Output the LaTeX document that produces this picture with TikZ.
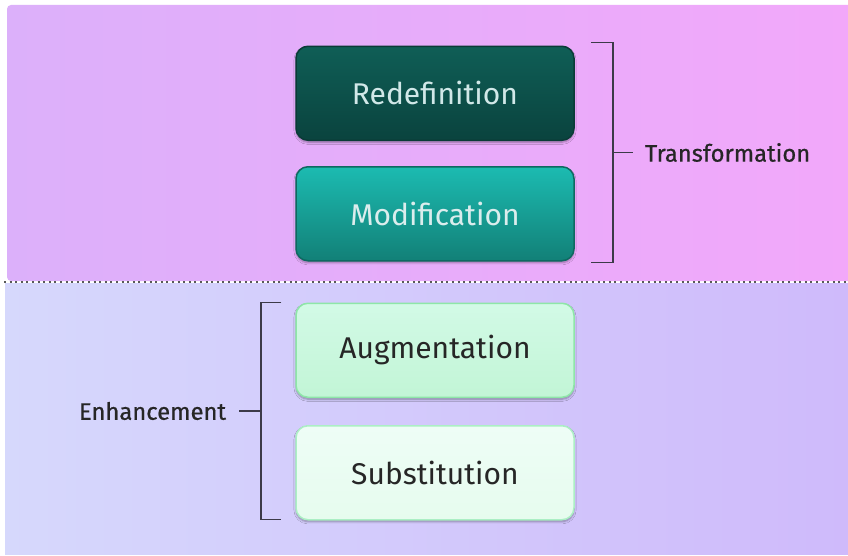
\documentclass[tikz,border=0pt]{standalone}
\usepackage{fontspec}
\setmainfont{Fira Sans}
\newfontfamily\lblfont[FakeBold=0.7]{Fira Sans}
\usetikzlibrary{matrix,positioning,calc,shadows.blur}
\definecolor{topL}{HTML}{DCB0FA}
\definecolor{topR}{HTML}{F2A8FA}
\definecolor{botL}{HTML}{D6D8FC}
\definecolor{botR}{HTML}{CFBAFB}
\definecolor{brkcol}{HTML}{3C3A48}
\definecolor{txtdark}{HTML}{262626}
\definecolor{redefT}{HTML}{0F5E56}
\definecolor{redefB}{HTML}{0A433E}
\definecolor{redefD}{HTML}{0A3B37}
\definecolor{modT}{HTML}{1CBBB1}
\definecolor{modB}{HTML}{128077}
\definecolor{modD}{HTML}{0E6961}
\definecolor{augT}{HTML}{D2FAE6}
\definecolor{augB}{HTML}{C2F5D6}
\definecolor{augD}{HTML}{8EE6A8}
\definecolor{subT}{HTML}{EEFDF6}
\definecolor{subB}{HTML}{E6FCEE}
\definecolor{subD}{HTML}{ABEFC4}

\begin{document}
\begin{tikzpicture}[x=1pt, y=1pt,
     box/.style = {rounded corners=12pt, minimum width=278pt, minimum height=94pt,
                   line width=1.5pt, font=\fontsize{30}{33}\selectfont,
                   blur shadow={shadow xshift=0pt, shadow yshift=-2pt,
                                shadow blur steps=6, shadow opacity=35}},
   redefbox/.style = {box, draw=redefD, top color=redefT, bottom color=redefB, text=white!82!teal},
     modbox/.style = {box, draw=modD, top color=modT, bottom color=modB, text=white!86!teal},
     augbox/.style = {box, draw=augD, top color=augT, bottom color=augB, text=txtdark},
     subbox/.style = {box, draw=subD, top color=subT, bottom color=subB, text=txtdark},
         M/.style = {matrix of nodes, inner sep=0pt, row sep=25pt},
       brk/.style = {draw=brkcol, line width=1.8pt},
       lbl/.style = {font=\lblfont\fontsize{23.8}{27}\selectfont, text=txtdark, inner sep=0pt}
                    ]
\useasboundingbox (0,0) rectangle (848,-556);
\fill[white] (0,0) rectangle (848,-556);

% backgrounds
\shade[left color=topL, right color=topR, rounded corners=4pt] (7,-281) rectangle (852,-5);
\shade[left color=botL, right color=botR] (5,-283) rectangle (848,-554);
\draw[draw=black!65, line width=1.6pt, dash pattern=on 2pt off 3.6pt] (4,-282) -- (848,-282);

\matrix (m) [M] at (435,-283)
{
|[redefbox]| Redefinition \\
|[modbox]|   Modification \\[16pt]
|[augbox]|   Augmentation \\[2pt]
|[subbox]|   Substitution \\
};

% Transformation bracket
\coordinate (tr-top) at ([shift={(16,3)}]m-1-1.north east);
\coordinate (tr-bot) at ([shift={(16,-1)}]m-2-1.south east);
\draw[brk] (tr-top) -- ++(22,0) coordinate (tr-a) -- (tr-a |- tr-bot) coordinate (tr-b) -- (tr-bot);
\coordinate (tr-mid) at ($(tr-a)!0.5!(tr-b)$);
\coordinate (tr-tick) at ($(tr-mid)+(20,0)$);
\node[lbl, right=12pt of tr-tick] (trans) {Transformation};
\draw[brk] (tr-mid) -- (tr-tick);

% Enhancement bracket
\coordinate (en-top) at ([xshift=-14pt]m-3-1.north west);
\coordinate (en-bot) at ([shift={(-14,1)}]m-4-1.south west);
\draw[brk] (en-top) -- ++(-20,0) coordinate (en-a) -- (en-a |- en-bot) coordinate (en-b) -- (en-bot);
\coordinate (en-mid) at ($(en-a)!0.5!(en-b)$);
\coordinate (en-tick) at ($(en-mid)+(-22,0)$);
\node[lbl, left=13pt of en-tick] (enh) {Enhancement};
\draw[brk] (en-mid) -- (en-tick);
\end{tikzpicture}
\end{document}
